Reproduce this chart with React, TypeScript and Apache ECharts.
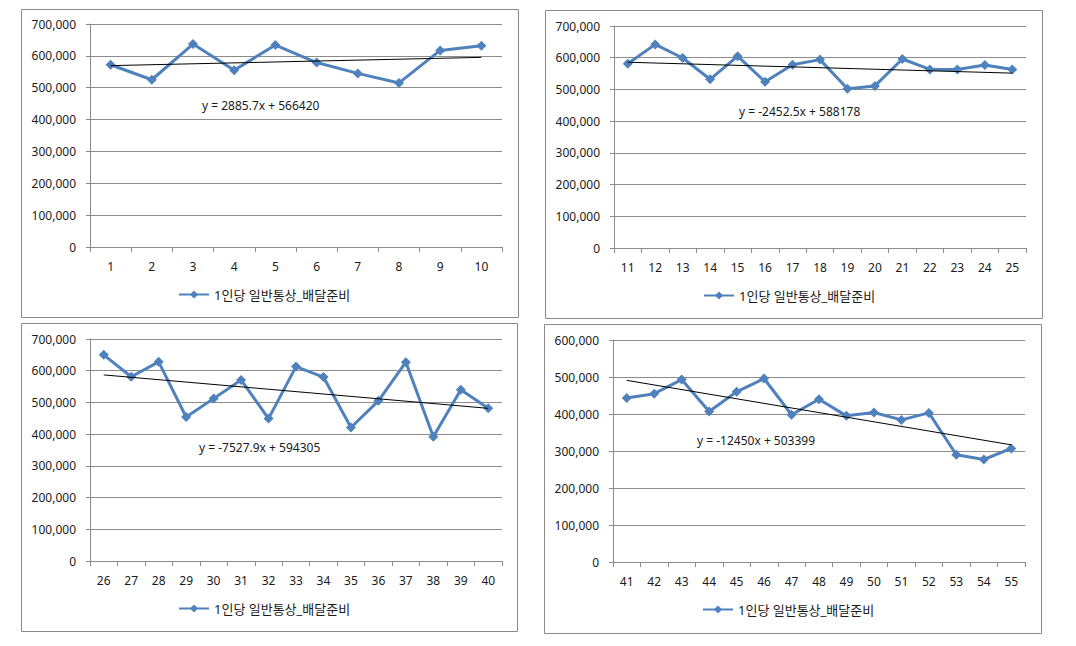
import React, { useEffect, useRef } from "react";
import * as echarts from "echarts";

const seriesName = "1인당 일반통상_배달준비";

const cats1 = ["1", "2", "3", "4", "5", "6", "7", "8", "9", "10"];
const cats2 = ["11", "12", "13", "14", "15", "16", "17", "18", "19", "20", "21", "22", "23", "24", "25"];
const cats3 = ["26", "27", "28", "29", "30", "31", "32", "33", "34", "35", "36", "37", "38", "39", "40"];
const cats4 = ["41", "42", "43", "44", "45", "46", "47", "48", "49", "50", "51", "52", "53", "54", "55"];

const values1 = [572000, 525000, 637000, 555000, 634000, 579000, 545000, 515000, 617000, 632000];
const values2 = [581000, 642000, 599000, 532000, 605000, 524000, 578000, 594000, 502000, 511000, 596000, 563000, 563000, 577000, 563000];
const values3 = [650000, 581000, 628000, 454000, 512000, 571000, 449000, 613000, 580000, 421000, 505000, 627000, 392000, 540000, 482000];
const values4 = [443000, 455000, 493000, 407000, 460000, 496000, 398000, 440000, 395000, 404000, 384000, 403000, 290000, 277000, 307000];

const trendSlopes = [2885.7, -2452.5, -7527.9, -12450];
const trendIntercepts = [566420, 588178, 594305, 503399];
const equations = ["y = 2885.7x + 566420", "y = -2452.5x + 588178", "y = -7527.9x + 594305", "y = -12450x + 503399"];

const yMaxes = [700000, 700000, 700000, 600000];

// layout (pixels)
const panels = [
  { x: 21, y: 9, w: 497, h: 308 },
  { x: 545, y: 10, w: 497, h: 308 },
  { x: 21, y: 323, w: 496, h: 308 },
  { x: 544, y: 324, w: 497, h: 309 },
];
const grids = [
  { left: 90, top: 24, width: 412, height: 223 },
  { left: 614, top: 26, width: 412, height: 222 },
  { left: 90, top: 339, width: 412, height: 222 },
  { left: 613, top: 340, width: 412, height: 222 },
];
const eqPos = [
  { x: 202, y: 105 },
  { x: 739, y: 111 },
  { x: 199, y: 447 },
  { x: 697, y: 440 },
];
const legendPos = [
  { left: 178, top: 288 },
  { left: 703, top: 289 },
  { left: 178, top: 602 },
  { left: 702, top: 603 },
];

const FONT = "'Noto Sans', 'Noto Sans CJK KR', sans-serif";
const TEXT = "#1a1a1a";
const GRIDC = "#8c8c8c";
const BLUE = "#4F81BD";

export default function App() {
  const ref = useRef<HTMLDivElement>(null);
  useEffect(() => {
    if (!ref.current) return;
    const chart = echarts.init(ref.current, null, { renderer: "svg" });
    const allCats = [cats1, cats2, cats3, cats4];
    const allVals = [values1, values2, values3, values4];

    const xAxis = allCats.map((c, i) => ({
      type: "category",
      gridIndex: i,
      data: c,
      boundaryGap: true,
      axisLine: { lineStyle: { color: GRIDC, width: 1 } },
      axisTick: { show: true, alignWithLabel: false, length: 5, lineStyle: { color: GRIDC } },
      axisLabel: { color: TEXT, fontSize: 12, fontFamily: FONT, margin: 13, interval: 0 },
      splitLine: { show: false },
    }));
    const yAxis = yMaxes.map((m, i) => ({
      type: "value",
      gridIndex: i,
      min: 0,
      max: m,
      interval: 100000,
      axisLine: { show: true, lineStyle: { color: GRIDC, width: 1 } },
      axisTick: { show: true, length: 4, lineStyle: { color: GRIDC } },
      axisLabel: {
        color: TEXT,
        fontSize: 12,
        fontFamily: FONT,
        margin: 14,
        formatter: (v: number) => v.toLocaleString("en-US"),
      },
      splitLine: { show: true, lineStyle: { color: GRIDC, width: 1 } },
    }));

    const series: any[] = [];
    allVals.forEach((vals, i) => {
      series.push({
        name: seriesName,
        type: "line",
        xAxisIndex: i,
        yAxisIndex: i,
        data: vals,
        symbol: "diamond",
        symbolSize: 10,
        lineStyle: { color: BLUE, width: 3 },
        itemStyle: { color: BLUE },
        z: 2,
      });
      const n = vals.length;
      const trend = vals.map((_, k) =>
        k === 0 || k === n - 1 ? trendIntercepts[i] + trendSlopes[i] * (k + 1) : null
      );
      series.push({
        name: "trend" + (i + 1),
        type: "line",
        xAxisIndex: i,
        yAxisIndex: i,
        data: trend,
        connectNulls: true,
        symbol: "none",
        lineStyle: { color: "#000000", width: 1 },
        z: 3,
        silent: true,
      });
    });

    const graphic: any[] = [];
    panels.forEach((p) => {
      graphic.push({
        type: "rect",
        shape: { x: p.x + 0.5, y: p.y + 0.5, width: p.w, height: p.h },
        style: { fill: "none", stroke: "#8a8a8a", lineWidth: 1 },
        silent: true,
        z: -1,
      });
    });
    equations.forEach((eq, i) => {
      graphic.push({
        type: "text",
        x: eqPos[i].x,
        y: eqPos[i].y,
        style: {
          text: eq,
          fill: TEXT,
          font: `12px ${FONT}`,
          textVerticalAlign: "middle",
          verticalAlign: "middle",
        },
        z: 10,
      });
    });

    const legend = legendPos.map((lp) => ({
      data: [seriesName],
      left: lp.left,
      top: lp.top,
      padding: 0,
      itemWidth: 30,
      itemHeight: 10,
      itemGap: 5,
      textStyle: { color: TEXT, fontSize: 13, fontFamily: FONT },
      selectedMode: false,
    }));

    chart.setOption({
      animation: false,
      backgroundColor: "#ffffff",
      grid: grids,
      xAxis,
      yAxis,
      series,
      legend,
      graphic,
    });
    return () => chart.dispose();
  }, []);

  return (
    <div
      ref={ref}
      style={{ position: "fixed", left: 0, top: 0, width: 1076, height: 646, background: "#fff" }}
    />
  );
}
